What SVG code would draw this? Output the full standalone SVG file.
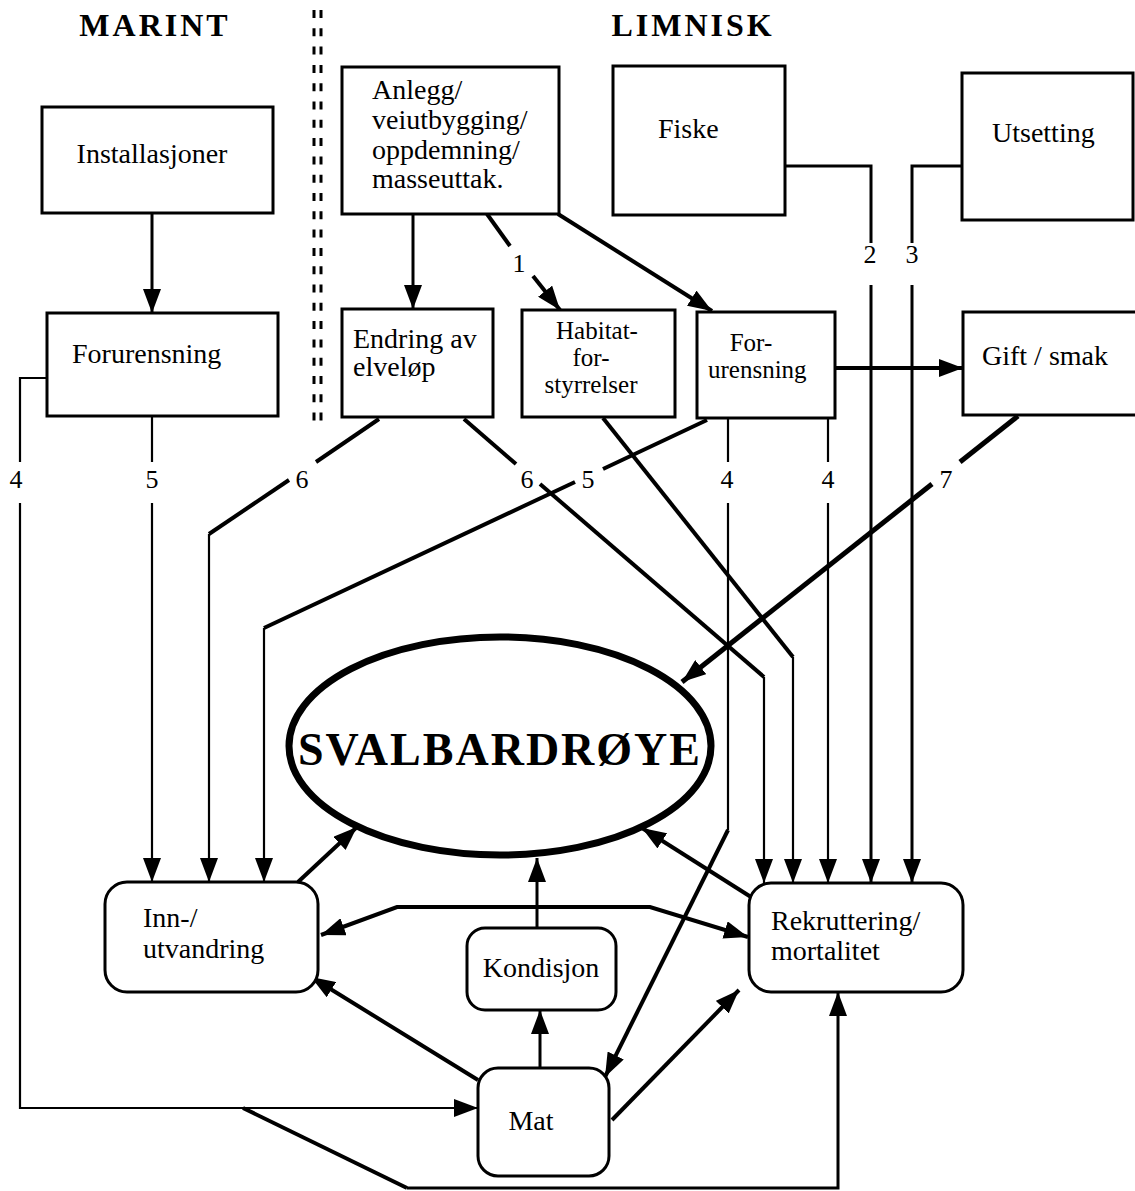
<svg xmlns="http://www.w3.org/2000/svg" width="1135" height="1191" viewBox="0 0 1135 1191">
  <style>
    .box { fill: #fff; stroke: #000; stroke-width: 3; }
    .lbl { font-family: "Liberation Serif", "Times New Roman", serif; font-size: 28px; fill: #000; }
    .sm { font-size: 25px; }
    .num { font-family: "Liberation Serif", "Times New Roman", serif; font-size: 26px; fill: #000; text-anchor: middle; }
    .title { font-family: "Liberation Serif", "Times New Roman", serif; font-size: 32px; font-weight: bold; letter-spacing: 3px; fill: #000; text-anchor: middle; }
    .c { fill: none; stroke: #000; stroke-linejoin: miter; }
    .t1 { stroke-width: 2.2; }
    .t2 { stroke-width: 3; }
    .t3 { stroke-width: 4; }
    .t4 { stroke-width: 5; }
    .arr { marker-end: url(#ah); }
    .arr2 { marker-start: url(#ah); marker-end: url(#ah); }
  </style>
  <defs>
    <marker id="ah" markerUnits="userSpaceOnUse" markerWidth="24" markerHeight="18" viewBox="0 0 24 18" refX="24" refY="9" orient="auto-start-reverse">
      <path d="M0,0 L24,9 L0,18 z" fill="#000"/>
    </marker>
  </defs>

  <rect width="1135" height="1191" fill="#fff"/>

  <!-- headings and the divider between the marine and freshwater sides -->
  <text class="title" x="155" y="36">MARINT</text>
  <text class="title" x="693" y="36">LIMNISK</text>
  <g id="divider" stroke="#000" stroke-width="3" stroke-dasharray="8 10.3">
    <line x1="314" y1="10" x2="314" y2="430"/>
    <line x1="321" y1="10" x2="321" y2="430"/>
  </g>

  <!-- connectors -->
  <g id="connectors">
    <path class="c t2 arr" d="M152,213 V313"/>
    <path class="c t2 arr" d="M413,214 V309"/>
    <path class="c t3" d="M487,214 L510,246"/>
    <path class="c t3 arr" d="M533,276 L560,310"/>
    <path class="c t3 arr" d="M558,214 L712,311"/>
    <path class="c t2" d="M785,166 H871 V243"/>
    <path class="c t2 arr" d="M871,285 V883"/>
    <path class="c t2" d="M962,166 H912 V243"/>
    <path class="c t2 arr" d="M912,285 V883"/>
    <path class="c t3 arr" d="M835,368 H963"/>
    <path class="c t4" d="M1018,416 L960,462"/>
    <path class="c t4 arr" d="M932,484 L682,682"/>

    <path class="c t1" d="M47,378 H20 V462"/>
    <path class="c t1 arr" d="M20,503 V1108 H478"/>
    <path class="c t1" d="M152,416 V462"/>
    <path class="c t1 arr" d="M152,503 V882"/>

    <path class="c t3" d="M379,419 L316,462"/>
    <path class="c t3" d="M289,480 L209,534"/>
    <path class="c t1 arr" d="M209,534 V882"/>
    <path class="c t3" d="M464,419 L516,464"/>
    <path class="c t3" d="M540,484 L764,677"/>
    <path class="c t1 arr" d="M764,677 V883"/>
    <path class="c t3" d="M707,420 L603,469"/>
    <path class="c t3" d="M575,482 L264,628"/>
    <path class="c t1 arr" d="M264,628 V882"/>
    <path class="c t3" d="M603,418 L793,657"/>
    <path class="c t1 arr" d="M793,657 V883"/>
    <path class="c t1" d="M728,418 V462"/>
    <path class="c t1" d="M728,503 V830"/>
    <path class="c t3 arr" d="M728,830 L605,1077"/>
    <path class="c t1" d="M828,418 V462"/>
    <path class="c t1 arr" d="M828,503 V883"/>

    <path class="c t3 arr" d="M298,882 L357,827"/>
    <path class="c t3 arr" d="M751,897 L642,828"/>
    <path class="c t2 arr" d="M537,927 V858"/>
    <path class="c t2 arr" d="M540,1068 V1010"/>
    <path class="c t3 arr2" d="M321,935 L397,907 H650 L748,937"/>
    <path class="c t3 arr" d="M478,1080 L311,977"/>
    <path class="c t3 arr" d="M612,1120 L739,990"/>
    <path class="c t3" d="M243,1108 L407,1188"/>
    <path class="c t2 arr" d="M407,1188 H838 V992"/>
  </g>

  <!-- line labels -->
  <g id="line-labels">
    <text class="num" x="519" y="272">1</text>
    <text class="num" x="870" y="263">2</text>
    <text class="num" x="912" y="263">3</text>
    <text class="num" x="16" y="488">4</text>
    <text class="num" x="152" y="488">5</text>
    <text class="num" x="302" y="488">6</text>
    <text class="num" x="527" y="488">6</text>
    <text class="num" x="588" y="488">5</text>
    <text class="num" x="727" y="488">4</text>
    <text class="num" x="828" y="488">4</text>
    <text class="num" x="946" y="488">7</text>
  </g>

  <!-- nodes -->
  <g id="installasjoner">
    <rect class="box" x="42" y="107" width="231" height="106"/>
    <text class="lbl" x="152" y="163" text-anchor="middle">Installasjoner</text>
  </g>
  <g id="forurensning-marin">
    <rect class="box" x="47" y="313" width="231" height="103"/>
    <text class="lbl" x="72" y="363">Forurensning</text>
  </g>
  <g id="anlegg">
    <rect class="box" x="342" y="67" width="217" height="147"/>
    <text class="lbl" x="372" y="99">Anlegg/</text>
    <text class="lbl" x="372" y="129">veiutbygging/</text>
    <text class="lbl" x="372" y="159">oppdemning/</text>
    <text class="lbl" x="372" y="188">masseuttak.</text>
  </g>
  <g id="fiske">
    <rect class="box" x="613" y="66" width="172" height="149"/>
    <text class="lbl" x="658" y="138">Fiske</text>
  </g>
  <g id="utsetting">
    <rect class="box" x="962" y="73" width="171" height="147"/>
    <text class="lbl" x="992" y="142">Utsetting</text>
  </g>
  <g id="endring">
    <rect class="box" x="342" y="309" width="151" height="108"/>
    <text class="lbl" x="353" y="348">Endring av</text>
    <text class="lbl" x="353" y="376">elveløp</text>
  </g>
  <g id="habitat">
    <rect class="box" x="522" y="310" width="153" height="107"/>
    <text class="lbl sm" x="597" y="339" text-anchor="middle">Habitat-</text>
    <text class="lbl sm" x="591" y="366" text-anchor="middle">for-</text>
    <text class="lbl sm" x="591" y="393" text-anchor="middle">styrrelser</text>
  </g>
  <g id="forurensning-limnisk">
    <rect class="box" x="697" y="312" width="138" height="106"/>
    <text class="lbl sm" x="751" y="351" text-anchor="middle">For-</text>
    <text class="lbl sm" x="708" y="378">urensning</text>
  </g>
  <g id="gift-smak">
    <rect class="box" x="963" y="312" width="190" height="103"/>
    <text class="lbl" x="982" y="365">Gift / smak</text>
  </g>
  <g id="svalbardroye">
    <ellipse cx="500" cy="746" rx="211" ry="109" fill="#fff" stroke="#000" stroke-width="7"/>
    <text x="499" y="765" text-anchor="middle" textLength="402" lengthAdjust="spacing" style="font-family: 'Liberation Serif', 'Times New Roman', serif; font-size: 46px; font-weight: bold;">SVALBARDRØYE</text>
  </g>
  <g id="inn-utvandring">
    <rect class="box" x="105" y="882" width="213" height="110" rx="22"/>
    <text class="lbl" x="143" y="927">Inn-/</text>
    <text class="lbl" x="143" y="958">utvandring</text>
  </g>
  <g id="kondisjon">
    <rect class="box" x="467" y="928" width="149" height="82" rx="18"/>
    <text class="lbl" x="541" y="977" text-anchor="middle">Kondisjon</text>
  </g>
  <g id="mat">
    <rect class="box" x="478" y="1068" width="131" height="108" rx="20"/>
    <text class="lbl" x="531" y="1130" text-anchor="middle">Mat</text>
  </g>
  <g id="rekruttering">
    <rect class="box" x="749" y="883" width="214" height="109" rx="22"/>
    <text class="lbl" x="771" y="930">Rekruttering/</text>
    <text class="lbl" x="771" y="960">mortalitet</text>
  </g>
</svg>
